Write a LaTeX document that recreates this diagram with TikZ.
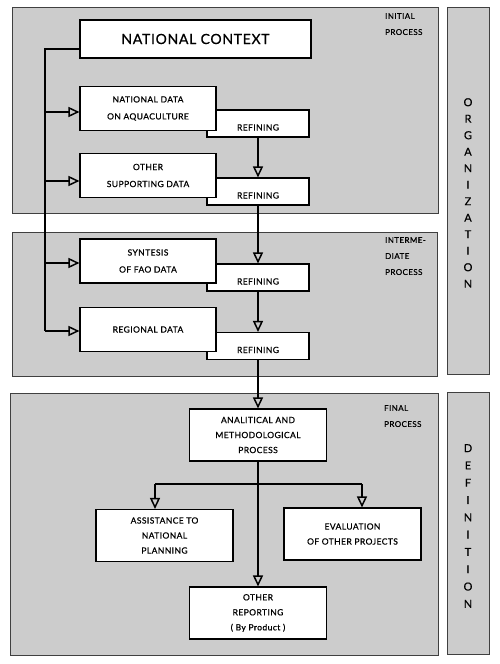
\documentclass[tikz,border=0pt]{standalone}
\usepackage{fontspec}
\setmainfont[LetterSpace=5, FakeBold=0.7]{Lato}
\usetikzlibrary{arrows.meta}

\tikzstyle{panel} = [draw=black!75, fill=black!20, line width=0.8pt]
\tikzstyle{box} = [draw, fill=white, line width=1.1pt, align=center, inner sep=0pt]
\tikzstyle{databox} = [box, minimum width=136pt, minimum height=44pt, font=\fontsize{8.5}{17}\selectfont]
\tikzstyle{refbox} = [box, minimum width=102pt, minimum height=27pt, inner ysep=5pt, text height=15.5pt, text depth=1.5pt, font=\fontsize{8.5}{10}\selectfont]
\tikzstyle{finalbox} = [box, minimum width=137pt, minimum height=52pt, font=\fontsize{8.5}{15}\selectfont]
\tikzstyle{flow} = [line width=1.5pt, -{Triangle[open,length=11pt,width=10pt]}]
\tikzstyle{line} = [line width=1.8pt]
\tikzstyle{tag} = [font=\fontsize{8}{16}\selectfont, align=left, anchor=north west, inner sep=0pt]
\tikzstyle{vtag} = [font=\fontsize{11}{16.5}\selectfont, align=center, anchor=north, inner sep=0pt]

\begin{document}
\begin{tikzpicture}[x=1pt, y=-1pt]
  \useasboundingbox (0,0) rectangle (500,664);
  %panels
  \draw[panel] (12,7) rectangle (438,213);
  \draw[panel] (12,232) rectangle (437,376);
  \draw[panel] (10,393) rectangle (438,655);
  \draw[panel] (447,7) rectangle (489,374);
  \draw[panel] (447,392) rectangle (489,654);
  \node[tag] (initial) at (385,13) {INITIAL\\PROCESS};
  \node[tag] (interm) at (385,237) {INTERME-\\DIATE\\PROCESS};
  \node[tag] (final) at (384,405) {FINAL\\PROCESS};
  \node[vtag] (organ) at (468,98) {O\\R\\G\\A\\N\\I\\Z\\A\\T\\I\\O\\N};
  \node[vtag, font=\fontsize{11}{17.3}\selectfont] (defin) at (468,444) {D\\E\\F\\I\\N\\I\\T\\I\\O\\N};

  %nodes
  \node[box, minimum width=231pt, minimum height=38pt, font=\fontsize{14}{16}\selectfont] (nc) at (195.5,39) {NATIONAL CONTEXT};
  \foreach \name/\y in {ref1/123.5, ref2/191.5, ref3/277.5, ref4/346}
  {
    \node[refbox] (\name) at (258,\y) {REFINING};
  };
  \foreach \name/\y/\txt in {
    nda/108.5/{NATIONAL DATA\\ON AQUACULTURE}, osd/175.5/{OTHER\\SUPPORTING DATA},
    syn/261/{SYNTESIS\\OF FAO DATA}, reg/329.5/{REGIONAL DATA}}
  {
    \node[databox] (\name) at (148,\y) {\txt};
  };
  \foreach \name/\x/\y/\txt in {
    ana/258/435/{ANALITICAL AND\\METHODOLOGICAL\\PROCESS},
    ast/164.5/535.5/{ASSISTANCE TO\\NATIONAL\\PLANNING},
    evl/352.5/534/{EVALUATION\\OF OTHER PROJECTS},
    oth/258/613/{OTHER\\REPORTING\\( By Product )}}
  {
    \node[finalbox] (\name) at (\x,\y) {\txt};
  };

  %edges
  \coordinate (spinetop) at (45,49);
  \foreach \name/\dy in {nda/3.5, osd/5.5, syn/2, reg/1.5}
  {
    \path (\name.west) ++(0,\dy) coordinate (\name-in);
    \draw[flow] (spinetop |- \name-in) -- (\name-in);
  };
  \draw[line] (nc.west |- spinetop) -- (spinetop) -- (spinetop |- reg-in);
  \foreach \startnode/\endnode in {ref1/ref2, ref2/ref3, ref3/ref4, ref4/ana, ana/oth}
  {
    \draw[flow] (\startnode.south) -- (\endnode.north);
  };
  \coordinate (lbr) at (155,484);
  \coordinate (rbr) at (362,484);
  \draw[line] (lbr) -- (rbr);
  \draw[flow] (lbr) -- (lbr |- ast.north);
  \draw[flow] (rbr) -- (rbr |- evl.north);
\end{tikzpicture}
\end{document}
